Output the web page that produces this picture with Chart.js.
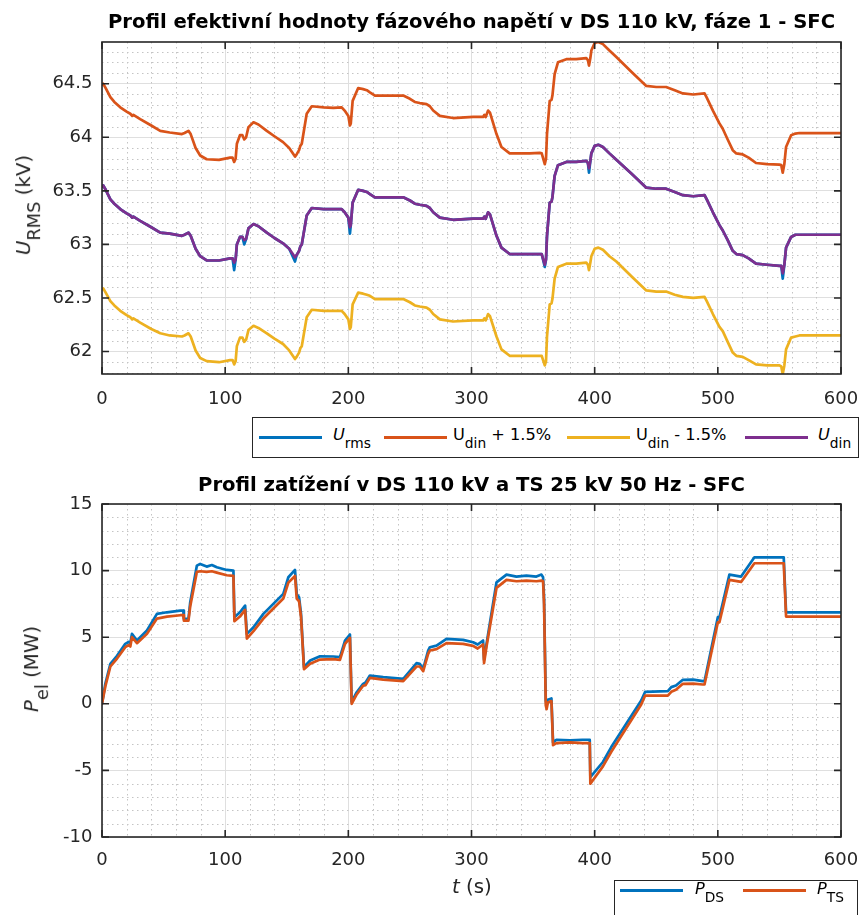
<!DOCTYPE html>
<html><head><meta charset="utf-8">
<script src="https://cdn.jsdelivr.net/npm/chart.js@4.4.1/dist/chart.umd.min.js"></script>
<style>
html,body{margin:0;padding:0;background:#fff;}
body{width:859px;height:915px;position:relative;overflow:hidden;font-family:"DejaVu Sans","Liberation Sans",sans-serif;color:#262626;}
canvas{position:absolute;left:0;}
#c1{top:0;} #c2{top:465px;}
.legend{position:absolute;border:1px solid #262626;background:#fff;box-sizing:border-box;}
.ln{position:absolute;height:3px;width:63px;}
.lt{position:absolute;font-size:16.2px;white-space:nowrap;line-height:1;color:#000;}
.lt .sub{font-size:0.85em;position:relative;top:8px;}
.ylab,.xlab{position:absolute;white-space:nowrap;font-size:19.8px;line-height:1;color:#262626;}
.ylab{transform:translate(-50%,-50%) rotate(-90deg);}
.ylab .sub{font-size:0.9em;position:relative;top:10px;}
</style></head>
<body>
<canvas id="c1" width="859" height="465"></canvas>
<canvas id="c2" width="859" height="450"></canvas>

<div class="ylab" style="left:24px;top:205px;"><i>U</i><span class="sub">RMS</span> (kV)</div>
<div class="ylab" style="left:32px;top:669px;"><i>P</i><span class="sub">el</span> (MW)</div>
<div class="xlab" style="left:452px;top:877px;"><i>t</i> (s)</div>

<div class="legend" style="left:252px;top:417px;width:607px;height:41px;">
  <div class="ln" style="left:6px;top:18px;background:#0072BD"></div>
  <div class="lt" style="left:80px;top:9.3px;"><i>U</i><span class="sub">rms</span></div>
  <div class="ln" style="left:131px;top:18px;background:#D95319"></div>
  <div class="lt" style="left:200px;top:9.3px;">U<span class="sub">din</span> + 1.5%</div>
  <div class="ln" style="left:314px;top:18px;background:#EDB120"></div>
  <div class="lt" style="left:383px;top:9.3px;">U<span class="sub">din</span> - 1.5%</div>
  <div class="ln" style="left:492px;top:18px;background:#7E2F8E"></div>
  <div class="lt" style="left:565px;top:9.3px;"><i>U</i><span class="sub">din</span></div>
</div>

<div class="legend" style="left:614px;top:880px;width:244px;height:50px;">
  <div class="ln" style="left:5px;top:8.2px;background:#0072BD"></div>
  <div class="lt" style="left:80px;top:-0.5px;"><i>P</i><span class="sub">DS</span></div>
  <div class="ln" style="left:128px;top:8.2px;background:#D95319"></div>
  <div class="lt" style="left:202px;top:-0.5px;"><i>P</i><span class="sub">TS</span></div>
</div>

<script>
// ---------- data: top chart (phase voltage RMS, kV) ----------
const tTop = [0,1,3,6.8,10,14.8,20,23,24.5,25.5,31,40,47.3,55,64.9,67,70.2,72,76,79.7,85,95,104,106,107.3,108.5,109.5,112,114,115.5,117,118.9,123,127,133.8,140,147,152,156.7,158,160,161,162.2,166.2,170.3,180,187.8,194.6,197,200,201.3,202,203.5,208,212,215,217.5,221.6,235,244.6,250,254,258,263.5,266.2,268.9,274.3,285,301.3,309.4,310.5,311.5,313.5,315,320.3,324.3,331,340,347.3,355.4,357,359.5,360.5,361.3,363.5,365,365.7,367.5,370.2,377,385,393.2,394.5,395.4,396.5,397.3,400,403,406.7,412,417.6,430,441.9,450,458,465,471.6,480,489.2,491,496,501.3,504,508,512.1,515,520.2,525,531,540,550,551.5,552.7,554,555.4,559.5,563,566.2,580,600];

const uDinPlus = [64.49,64.50,64.46,64.375,64.33,64.28,64.24,64.22,64.20,64.21,64.17,64.11,64.06,64.045,64.03,64.04,64.06,64.03,63.90,63.83,63.795,63.79,63.81,63.81,63.77,63.80,63.94,64.02,64.02,63.98,64.00,64.095,64.14,64.12,64.06,64.01,63.955,63.90,63.82,63.84,63.88,63.92,63.94,64.22,64.29,64.28,64.275,64.28,64.25,64.20,64.11,64.13,64.34,64.46,64.45,64.44,64.42,64.39,64.39,64.39,64.36,64.33,64.32,64.31,64.29,64.25,64.20,64.18,64.19,64.19,64.21,64.19,64.25,64.23,64.03,63.91,63.85,63.85,63.85,63.855,63.85,63.75,63.80,64.03,64.34,64.35,64.39,64.59,64.70,64.73,64.73,64.74,64.72,64.67,64.74,64.81,64.88,64.89,64.87,64.81,64.75,64.61,64.48,64.47,64.47,64.44,64.41,64.40,64.41,64.37,64.25,64.13,64.08,63.98,63.88,63.85,63.84,63.81,63.76,63.75,63.745,63.74,63.67,63.75,63.91,64.02,64.035,64.04,64.04,64.04];

const uDin = [63.54,63.55,63.51,63.42,63.38,63.33,63.29,63.27,63.25,63.26,63.22,63.16,63.11,63.10,63.08,63.09,63.11,63.08,62.96,62.89,62.85,62.85,62.87,62.87,62.83,62.86,63.00,63.07,63.07,63.04,63.05,63.15,63.19,63.17,63.11,63.06,63.01,62.96,62.88,62.90,62.94,62.98,63.00,63.27,63.34,63.33,63.33,63.33,63.30,63.25,63.16,63.18,63.39,63.51,63.50,63.49,63.47,63.44,63.44,63.44,63.41,63.38,63.37,63.36,63.34,63.30,63.25,63.23,63.24,63.24,63.26,63.24,63.30,63.28,63.08,62.97,62.91,62.91,62.91,62.91,62.91,62.81,62.86,63.08,63.39,63.40,63.44,63.64,63.74,63.77,63.77,63.78,63.76,63.71,63.78,63.85,63.92,63.93,63.91,63.85,63.79,63.66,63.53,63.52,63.52,63.49,63.46,63.45,63.46,63.42,63.30,63.18,63.13,63.04,62.94,62.91,62.90,62.87,62.82,62.81,62.80,62.80,62.73,62.81,62.97,63.07,63.09,63.09,63.09,63.09];

const uRms = [63.54,63.55,63.51,63.42,63.38,63.33,63.29,63.27,63.25,63.26,63.22,63.16,63.11,63.10,63.08,63.09,63.11,63.08,62.96,62.89,62.85,62.85,62.87,62.87,62.76,62.86,63.00,63.07,63.07,63.00,63.05,63.15,63.19,63.17,63.11,63.06,63.01,62.96,62.84,62.90,62.94,62.98,63.00,63.27,63.34,63.33,63.33,63.33,63.30,63.25,63.10,63.18,63.39,63.51,63.50,63.49,63.47,63.44,63.44,63.44,63.41,63.38,63.37,63.36,63.34,63.30,63.25,63.23,63.24,63.24,63.26,63.24,63.30,63.28,63.08,62.97,62.91,62.91,62.91,62.91,62.91,62.79,62.86,63.08,63.39,63.40,63.44,63.64,63.74,63.77,63.77,63.78,63.76,63.67,63.78,63.85,63.92,63.93,63.91,63.85,63.79,63.66,63.53,63.52,63.52,63.49,63.46,63.45,63.46,63.42,63.30,63.18,63.13,63.04,62.94,62.91,62.90,62.87,62.82,62.81,62.80,62.80,62.68,62.81,62.97,63.07,63.09,63.09,63.09,63.09];

const uDinMinus = [62.58,62.59,62.55,62.47,62.43,62.38,62.34,62.32,62.30,62.31,62.27,62.21,62.17,62.15,62.14,62.15,62.17,62.14,62.01,61.94,61.91,61.90,61.92,61.92,61.88,61.91,62.05,62.13,62.13,62.09,62.11,62.20,62.24,62.22,62.17,62.12,62.07,62.01,61.93,61.95,61.99,62.03,62.05,62.32,62.39,62.38,62.38,62.38,62.35,62.30,62.21,62.23,62.44,62.55,62.54,62.53,62.52,62.49,62.49,62.49,62.46,62.43,62.42,62.41,62.39,62.35,62.30,62.28,62.29,62.29,62.31,62.29,62.35,62.33,62.14,62.02,61.96,61.96,61.96,61.96,61.96,61.87,61.91,62.14,62.44,62.45,62.49,62.68,62.79,62.82,62.82,62.83,62.81,62.76,62.83,62.89,62.96,62.97,62.95,62.89,62.84,62.70,62.57,62.56,62.56,62.53,62.51,62.50,62.51,62.47,62.35,62.23,62.19,62.09,61.99,61.96,61.95,61.92,61.88,61.87,61.87,61.86,61.79,61.87,62.02,62.13,62.14,62.15,62.15,62.15];

// ---------- data: bottom chart (power, MW) ----------
const tBot = [0,2.7,6.8,12.2,18.9,21.6,23,24.3,28.4,36.5,44.6,52.7,63.5,66,66.5,70.2,71.6,77,79.7,85,89.2,93.2,101.3,106.7,107.5,112,116.2,117.6,123,131,147.2,151.3,156.7,158.1,160,161.6,164,169,177,187.8,193.2,197.3,201.3,202.7,206.8,212,214,217.5,228.3,244.6,255.4,258,260.8,264.8,266.2,271.6,279.7,293.2,301.3,305,309.4,310.2,312.2,320.3,328.4,336.5,344.6,352.7,356.8,358.1,358.9,360.3,361,362,364.9,366.2,369,380,390,396,396.5,406.7,413.5,437.8,441,459.4,462.2,466,471.6,480,487.8,489.2,500,501.3,509.4,518.9,529.7,552.7,553.5,555.4,600];

const pDS = [0,1.5,3.0,3.6,4.5,4.65,4.55,5.25,4.75,5.5,6.75,6.87,7.0,7.0,6.4,6.38,7.6,10.37,10.5,10.3,10.42,10.25,10.05,10.0,6.5,6.87,7.37,5.25,5.75,6.75,8.25,9.5,10.05,8.25,8.0,6.75,2.75,3.25,3.57,3.55,3.5,4.75,5.2,0.15,0.87,1.5,1.6,2.12,2.0,1.87,3.05,3.0,2.62,4.0,4.25,4.37,4.87,4.8,4.62,4.45,4.75,3.3,4.5,9.12,9.7,9.55,9.62,9.55,9.7,9.5,8.0,0.25,-0.1,0.3,0.4,-2.9,-2.7,-2.75,-2.7,-2.7,-5.5,-4.37,-3.25,0.25,0.9,0.95,1.25,1.37,1.8,1.82,1.7,1.7,6.5,6.5,9.7,9.55,11.0,11.0,11.0,6.87,6.87];

const pTS = [0,1.3,2.8,3.4,4.25,4.4,4.3,5.0,4.55,5.25,6.4,6.55,6.65,6.65,6.25,6.25,7.3,9.9,9.95,9.9,9.95,9.85,9.65,9.6,6.2,6.55,7.05,4.9,5.45,6.4,7.9,9.1,9.6,7.9,7.7,6.5,2.6,3.0,3.32,3.35,3.3,4.5,4.95,0.0,0.7,1.35,1.4,1.95,1.82,1.7,2.8,2.8,2.45,3.75,4.0,4.1,4.55,4.5,4.35,4.15,4.45,3.05,4.3,8.7,9.3,9.2,9.25,9.2,9.25,9.2,7.5,-0.1,-0.4,0.1,0.2,-3.1,-2.95,-2.9,-2.95,-2.95,-6.0,-4.7,-3.6,-0.05,0.62,0.62,0.9,1.05,1.5,1.52,1.45,1.45,6.12,6.12,9.3,9.15,10.55,10.55,10.55,6.55,6.55];

// ---------- ticks ----------
const xTicks = [0,100,200,300,400,500,600];
const yTicksTop = [62,62.5,63,63.5,64,64.5];
const yTicksBot = [-10,-5,0,5,10,15];

const FONT = '"DejaVu Sans","Liberation Sans",sans-serif';
const toXY = (xs, ys) => xs.map((x, i) => ({x: x, y: ys[i]}));

const frame = {
  id: 'frame',
  beforeDatasetsDraw(chart, args, o) {
    const ctx = chart.ctx, a = chart.chartArea, xs = chart.scales.x, ys = chart.scales.y;
    ctx.save();
    ctx.beginPath(); ctx.rect(a.left, a.top, a.right - a.left, a.bottom - a.top); ctx.clip();
    ctx.strokeStyle = '#c4c4c4'; ctx.lineWidth = 1; ctx.setLineDash([1.5, 3.5]);
    const drawMinor = (scale, step, major, horiz) => {
      const s = Math.ceil(scale.min / step - 1e-9), e = Math.floor(scale.max / step + 1e-9);
      for (let i = s; i <= e; i++) {
        const v = i * step, r = v / major;
        if (Math.abs(r - Math.round(r)) < 1e-6) continue;
        const p = Math.round(scale.getPixelForValue(v)) + 0.5;
        ctx.beginPath();
        if (horiz) { ctx.moveTo(a.left, p); ctx.lineTo(a.right, p); }
        else { ctx.moveTo(p, a.top); ctx.lineTo(p, a.bottom); }
        ctx.stroke();
      }
    };
    drawMinor(xs, o.xMinor, o.xMajor, false);
    drawMinor(ys, o.yMinor, o.yMajor, true);
    ctx.restore();
  },
  afterDatasetsDraw(chart) {
    const ctx = chart.ctx, a = chart.chartArea, xs = chart.scales.x, ys = chart.scales.y, L = 7;
    ctx.save();
    ctx.strokeStyle = '#262626'; ctx.lineWidth = 1.6; ctx.setLineDash([]);
    ctx.strokeRect(a.left, a.top, a.right - a.left, a.bottom - a.top);
    ctx.beginPath();
    xs.ticks.forEach(t => { const p = xs.getPixelForValue(t.value);
      ctx.moveTo(p, a.bottom); ctx.lineTo(p, a.bottom - L); ctx.moveTo(p, a.top); ctx.lineTo(p, a.top + L); });
    ys.ticks.forEach(t => { const p = ys.getPixelForValue(t.value);
      ctx.moveTo(a.left, p); ctx.lineTo(a.left + L, p); ctx.moveTo(a.right, p); ctx.lineTo(a.right - L, p); });
    ctx.stroke();
    ctx.restore();
  }
};

function makeOptions(cfg) {
  return {
    responsive: false, animation: false, devicePixelRatio: 1,
    layout: {padding: {left: 0, right: 18, top: 0, bottom: cfg.padBottom}},
    elements: {point: {radius: 0}, line: {borderWidth: 2.7, tension: 0, borderJoinStyle: 'round', borderCapStyle: 'round'}},
    plugins: {
      legend: {display: false}, tooltip: {enabled: false},
      title: {display: true, text: cfg.title, fullSize: false, color: '#000',
        font: {family: FONT, size: 19.6, weight: 'bold'}, padding: cfg.titlePad},
      frame: cfg.frame
    },
    scales: {
      x: {type: 'linear', min: 0, max: 600,
        afterBuildTicks: s => { s.ticks = xTicks.map(v => ({value: v})); },
        afterFit: s => { s.height = 40; s.paddingLeft = 0; s.paddingRight = 0; },
        grid: {color: '#dfdfdf', lineWidth: 1, drawTicks: false}, border: {display: false},
        ticks: {padding: cfg.xPad, color: '#262626', font: {family: FONT, size: 18}, maxRotation: 0, autoSkip: false, callback: v => String(v)}},
      y: {type: 'linear', min: cfg.yMin, max: cfg.yMax,
        afterBuildTicks: s => { s.ticks = cfg.yTicks.map(v => ({value: v})); },
        afterFit: s => { s.width = 102; s.paddingTop = 0; s.paddingBottom = 0; },
        grid: {color: '#dfdfdf', lineWidth: 1, drawTicks: false}, border: {display: false},
        ticks: {padding: 9.5, color: '#262626', font: {family: FONT, size: 18}, autoSkip: false, callback: v => String(v)}}
    }
  };
}

new Chart(document.getElementById('c1'), {
  type: 'line',
  data: {datasets: [
    {label: 'Urms', data: toXY(tTop, uRms), borderColor: '#0072BD', order: 4},
    {label: 'Udin + 1.5%', data: toXY(tTop, uDinPlus), borderColor: '#D95319', order: 3},
    {label: 'Udin - 1.5%', data: toXY(tTop, uDinMinus), borderColor: '#EDB120', order: 2},
    {label: 'Udin', data: toXY(tTop, uDin), borderColor: '#7E2F8E', order: 1}
  ]},
  options: makeOptions({
    title: 'Profil efektivní hodnoty fázového napětí v DS 110 kV, fáze 1 - SFC',
    titlePad: {top: 11, bottom: 7.48}, padBottom: 51, xPad: 14.5,
    yMin: 61.79, yMax: 64.89, yTicks: yTicksTop,
    frame: {xMinor: 20, xMajor: 100, yMinor: 0.1, yMajor: 0.5}
  }),
  plugins: [frame]
});

new Chart(document.getElementById('c2'), {
  type: 'line',
  data: {datasets: [
    {label: 'PDS', data: toXY(tBot, pDS), borderColor: '#0072BD', order: 2},
    {label: 'PTS', data: toXY(tBot, pTS), borderColor: '#D95319', order: 1}
  ]},
  options: makeOptions({
    title: 'Profil zatížení v DS 110 kV a TS 25 kV 50 Hz - SFC',
    titlePad: {top: 9.5, bottom: 5.98}, padBottom: 38, xPad: 13,
    yMin: -10, yMax: 15, yTicks: yTicksBot,
    frame: {xMinor: 20, xMajor: 100, yMinor: 1, yMajor: 5}
  }),
  plugins: [frame]
});
</script>
</body></html>
